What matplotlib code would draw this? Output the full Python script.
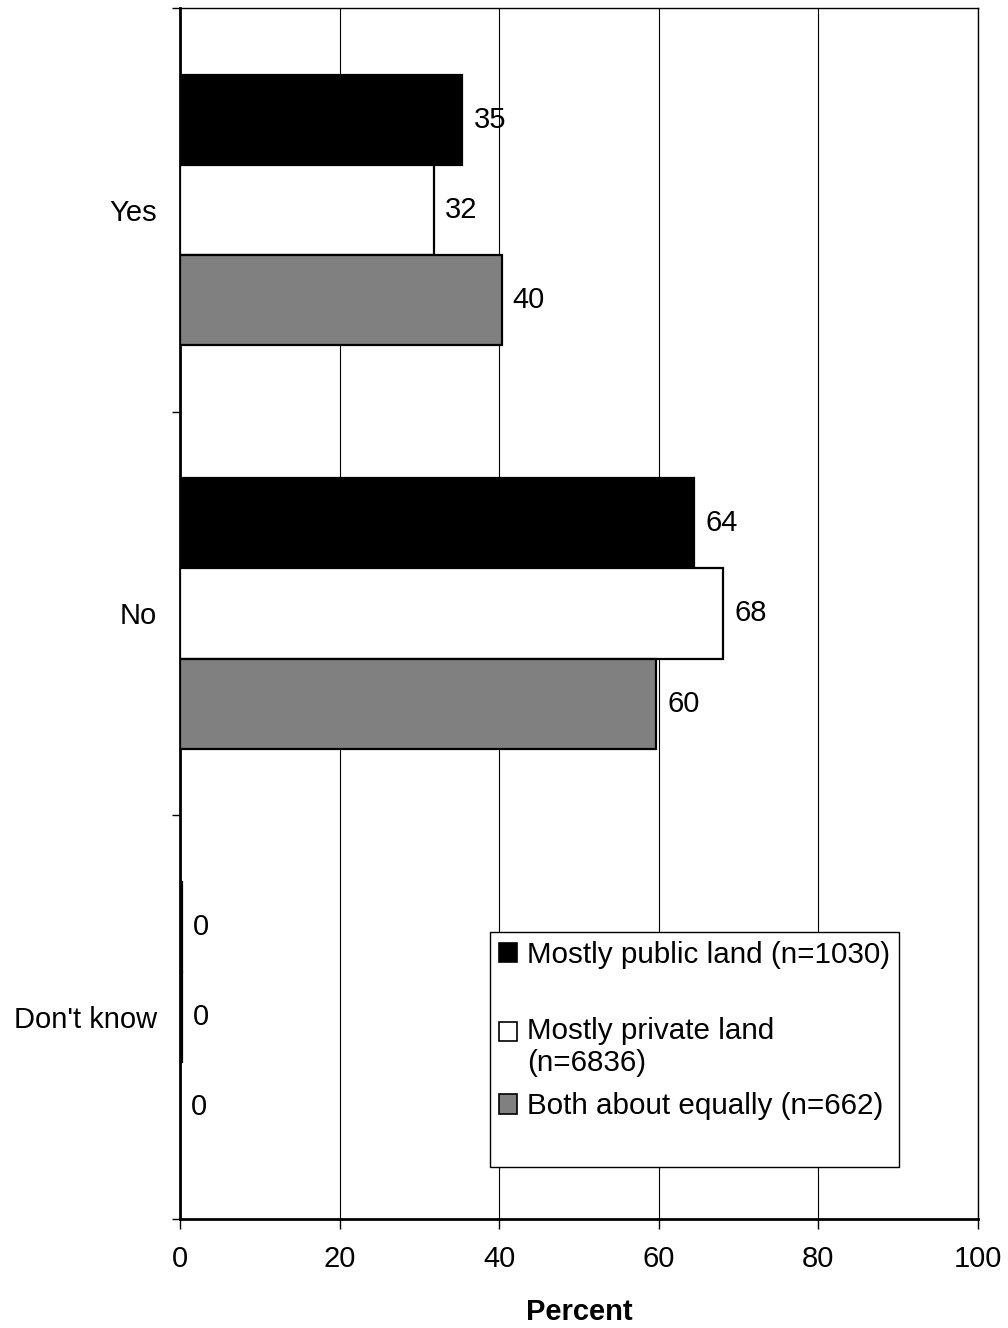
import matplotlib
matplotlib.use("Agg")
import matplotlib.pyplot as plt
from matplotlib.patches import Rectangle
import numpy as np

plt.rcParams['font.family'] = ['Liberation Sans', 'DejaVu Sans']

categories = ["Yes", "No", "Don't know"]
series_names = ["Mostly public land (n=1030)",
                "\nMostly private land\n(n=6836)",
                "Both about equally (n=662)"]
public_vals = [35.4, 64.4, 0.2]
private_vals = [31.8, 68.1, 0.2]
both_vals = [40.3, 59.7, 0.0]
value_labels = [["35", "64", "0"], ["32", "68", "0"], ["40", "60", "0"]]
x_ticks = [0, 20, 40, 60, 80, 100]

colors = ["#000000", "#ffffff", "#808080"]
FS = 21

fig = plt.figure(figsize=(10.08, 13.28), dpi=100)
ax = fig.add_axes([180/1008, 1 - 1219/1328, 798/1008, 1211/1328])

y = np.arange(len(categories))
h = 0.223
offsets = [-h, 0, h]
all_vals = [public_vals, private_vals, both_vals]
for vals, off, col, labs in zip(all_vals, offsets, colors, value_labels):
    ax.barh(y + off, vals, height=h, color=col, edgecolor="black",
            linewidth=1.6, zorder=3)
    for yi, v, lab in zip(y, vals, labs):
        ax.annotate(lab, xy=(v, yi + off), xytext=(8, 0),
                    textcoords="offset points", va="center", ha="left",
                    fontsize=FS, zorder=4)

ax.set_xlim(0, 100)
ax.set_ylim(2.5, -0.5)
ax.set_xticks(x_ticks)
ax.set_xticklabels([str(t) for t in x_ticks], fontsize=FS)
ax.tick_params(axis='x', direction='out', length=7, width=1, pad=12)
ax.xaxis.grid(True, color="black", linewidth=0.8, zorder=0)

ax.set_yticks([-0.5, 0.5, 1.5, 2.5])
ax.set_yticklabels([])
ax.tick_params(axis='y', which='major', direction='out', length=6, width=1)
ax.set_yticks(y, minor=True)
ax.set_yticklabels(categories, minor=True, fontsize=FS)
ax.tick_params(axis='y', which='minor', length=0, pad=16.5)

for s in ["top", "right"]:
    ax.spines[s].set_linewidth(1.0)
for s in ["left", "bottom"]:
    ax.spines[s].set_linewidth(2.0)

ax.set_xlabel("Percent", fontsize=FS, fontweight="bold", labelpad=18)

handles = [Rectangle((0, 0), 1, 1, facecolor=c, edgecolor="black", linewidth=1.2)
           for c in colors]
handles.append(Rectangle((0, 0), 1, 1, facecolor="none", edgecolor="none"))
labels = series_names + [" "]
LFS = 21.3
leg = ax.legend(handles, labels, loc="upper left",
                bbox_to_anchor=((490 - 180) / 798, (1219 - 932) / 1211),
                borderaxespad=0, fontsize=LFS, frameon=True, fancybox=False,
                framealpha=1, edgecolor="black", handlelength=0.62,
                handleheight=0.62, handletextpad=0.34, borderpad=0.3,
                labelspacing=0.52)
leg.get_texts()[3].set_fontsize(6)
leg.get_frame().set_linewidth(1.0)
leg.set_zorder(5)

fig.savefig("out.png", dpi=100)
